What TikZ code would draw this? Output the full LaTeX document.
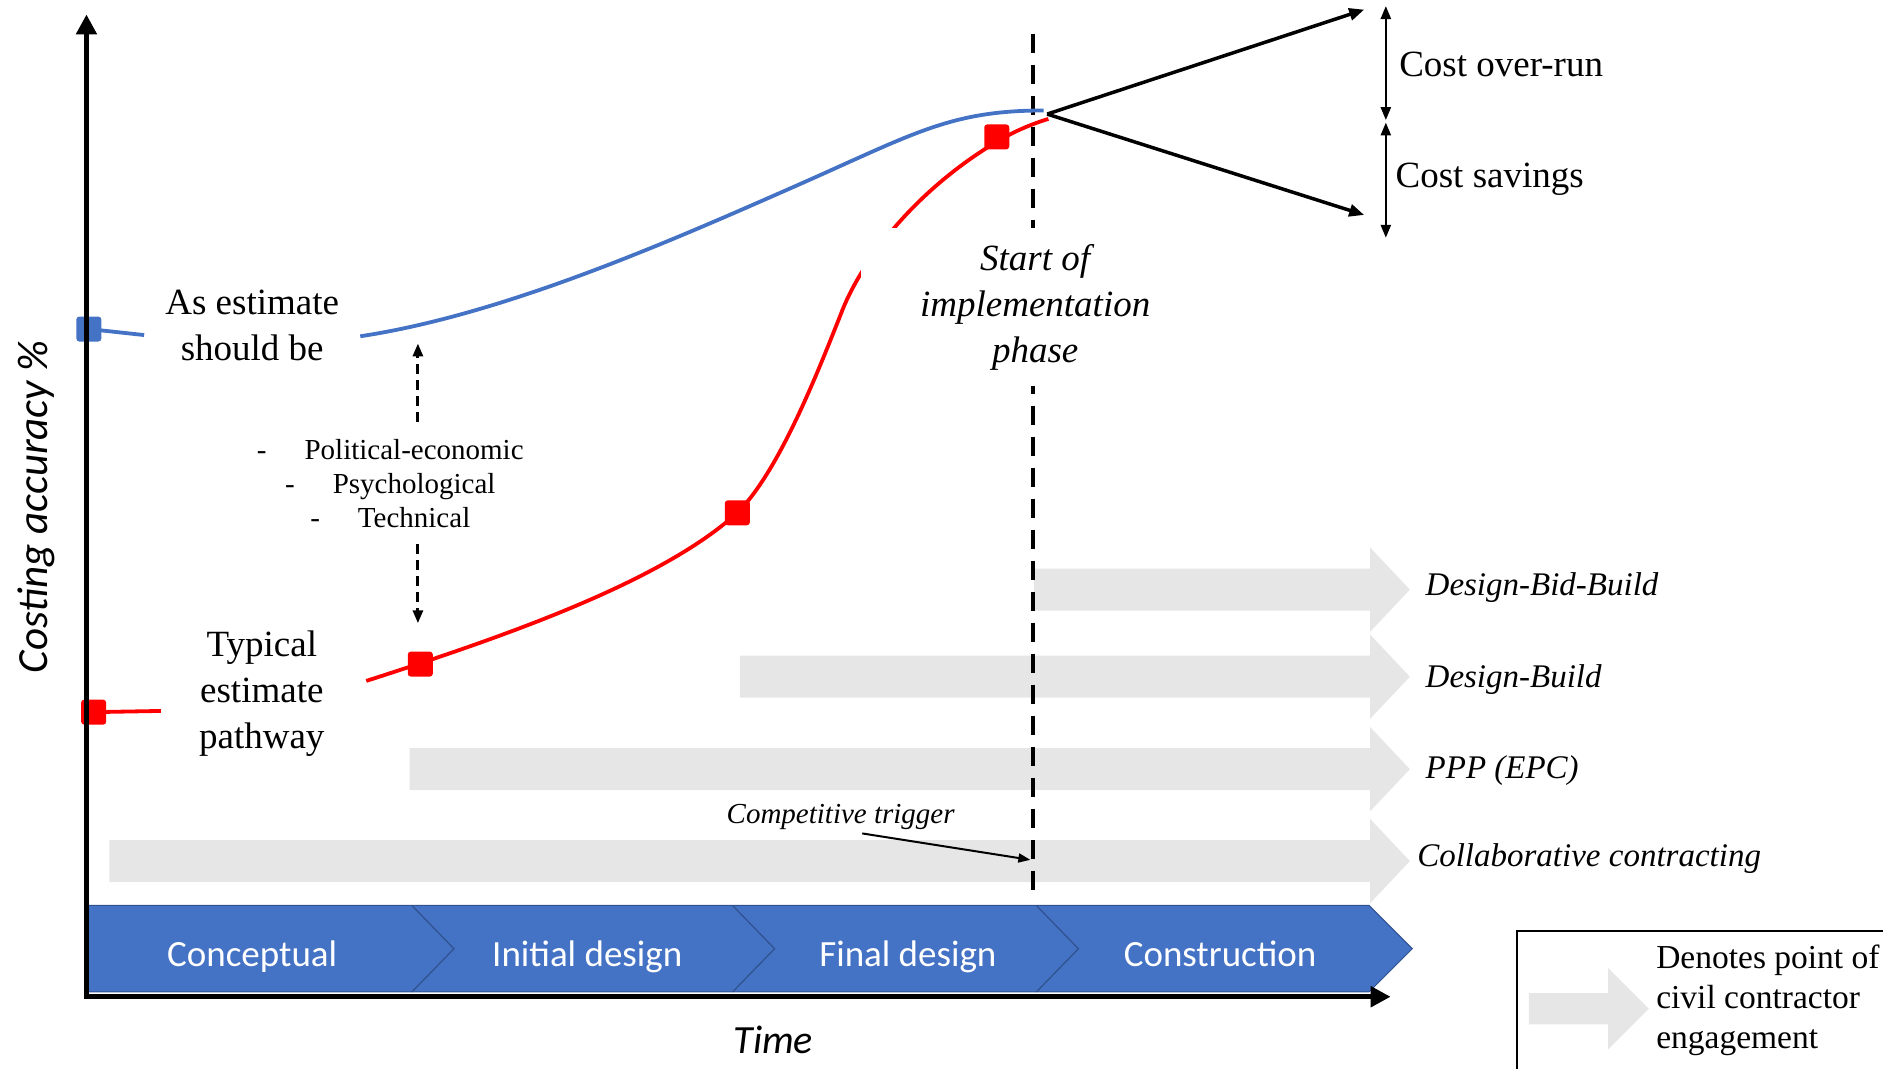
\documentclass[tikz,border=0pt]{standalone}
\usepackage{fontspec}
\setmainfont{Liberation Serif}
\newfontfamily\calibri{Carlito}
\usetikzlibrary{arrows.meta,calc}
\definecolor{obl}{RGB}{68,114,196}
\definecolor{obldark}{RGB}{47,82,143}
\definecolor{lgray}{RGB}{231,230,230}
\newcommand{\grayarr}[2]{%
  \fill[lgray] (#1,#2-17.5) -- (1141,#2-17.5) -- (1141,#2-35) -- (1174,#2) -- (1141,#2+35) -- (1141,#2+17.5) -- (#1,#2+17.5) -- cycle;}
\begin{document}
\begin{tikzpicture}[x=1.2009pt,y=-1.2009pt,
  bigtxt/.style={font=\fontsize{37}{46}\selectfont, align=center, inner sep=0pt},
  itxt/.style={font=\fontsize{33}{40}\selectfont\itshape, inner sep=0pt, anchor=west},
  bandtxt/.style={font=\calibri\fontsize{37}{44}\selectfont, text=white, inner sep=0pt, text height=0.64em, text depth=0.2em},
  sq/.style={rectangle, minimum size=25pt, inner sep=0pt, rounded corners=3pt},
  curve/.style={line width=3.8pt},
  fan/.style={line width=3.5pt, -{Triangle[length=15pt,width=12pt]}},
  dimarr/.style={line width=2.5pt, {Triangle[length=13pt,width=10pt]}-{Triangle[length=13pt,width=10pt]}},
  dasharr/.style={line width=3pt, dash pattern=on 10pt off 6pt, -{Triangle[length=13pt,width=10pt]}},
  axis/.style={line width=5pt, -{Triangle[length=20pt,width=20pt]}}
]
\useasboundingbox (0,0) rectangle (1568,890);

% gray contractor engagement arrows
\grayarr{861}{491}
\grayarr{616}{563.5}
\grayarr{341}{640.5}
\grayarr{91}{717}

% vertical dashed line (start of implementation)
\coordinate (dtop) at (860,28);
\coordinate (dbot) at (860,748);
\draw[line width=3.5pt, dash pattern=on 19pt off 12pt] (dtop) -- (dbot);

% curves
\draw[obl, curve] (300,280) .. controls (420,262) and (560,200) .. (660,156)
                  .. controls (760,112) and (790,92) .. (869,92);
\draw[red, curve] (305,567) .. controls (420,530) and (550,485) .. (614,427)
                  .. controls (648,393) and (679,315) .. (700,262)
                  .. controls (716,219) and (760,160) .. (830,118)
                  .. controls (845,109) and (860,103) .. (873,99);

% fan
\coordinate (fan) at (872,95);
\coordinate (ftop) at (1136,8);
\coordinate (fbot) at (1136,179);
\draw[fan] (fan) -- (ftop);
\draw[fan] (fan) -- (fbot);

% start of implementation text (white box)
\node[bigtxt, font=\fontsize{37}{46}\selectfont\itshape, fill=white, minimum width=348pt, minimum height=158pt] (start) at (862,256) {Start of\\implementation\\phase};

% curve labels
\node[bigtxt] (asest) at (210,271) {As estimate\\should be};
\node[bigtxt] (typ) at (218,578) {Typical\\estimate\\pathway};

% start segments and squares
\node[sq, fill=obl] (bsq) at (74,274) {};
\coordinate (bseg) at (120,279);
\draw[obl, curve] (bsq.center) -- (bseg);
\node[sq, fill=red] (rsq1) at (78,593) {};
\coordinate (rseg) at (134,592);
\draw[red, curve] (rsq1.center) -- (rseg);
\node[sq, fill=red] (rsq2) at (350,553) {};
\node[sq, fill=red] (rsq3) at (614,427) {};
\node[sq, fill=red] (rsq4) at (830,114) {};

% factors
\node[font=\fontsize{29}{34}\selectfont, align=center, inner sep=0pt] (fact) at (325,403)
  {-\hspace{38pt}Political-economic\\-\hspace{38pt}Psychological\\-\hspace{38pt}Technical};
\coordinate (fup) at (348,286);
\coordinate (fupst) at (348,351);
\coordinate (fdn) at (348,519);
\coordinate (fdnst) at (348,453);
\draw[dasharr] (fupst) -- (fup);
\draw[dasharr] (fdnst) -- (fdn);

% cost over-run / savings
\coordinate (d1) at (1154,5);
\coordinate (d2) at (1154,100);
\coordinate (d3) at (1154,102);
\coordinate (d4) at (1154,198);
\draw[dimarr] (d1) -- (d2);
\draw[dimarr] (d3) -- (d4);
\node[font=\fontsize{37}{44}\selectfont, anchor=west, inner sep=0pt] (over) at (1165,54) {Cost over-run};
\node[font=\fontsize{37}{44}\selectfont, anchor=west, inner sep=0pt] (sav) at (1162,149) {Cost savings};

% contract labels
\node[itxt] (dbb) at (1187,489) {Design-Bid-Build};
\node[itxt] (db) at (1187,566) {Design-Build};
\node[itxt] (ppp) at (1187,642) {PPP (EPC)};
\node[itxt] (collab) at (1180,715) {Collaborative contracting};

% competitive trigger
\node[font=\fontsize{29}{34}\selectfont\itshape, inner sep=0pt] (comp) at (700,680) {Competitive trigger};
\coordinate (cst) at (718,694);
\coordinate (ctip) at (858,716);
\draw[line width=2pt, -{Triangle[length=12pt,width=9pt]}] (cst) -- (ctip);

% phase band
\fill[obl] (72,754) -- (1140,754) -- (1176,790) -- (1140,826) -- (72,826) -- cycle;
\draw[obldark, line width=1pt] (72,754) -- (1140,754) -- (1176,790) -- (1140,826) -- (72,826);
\draw[obldark, line width=1.2pt] (343,754) -- (378,790) -- (343,826);
\draw[obldark, line width=1.2pt] (610,754) -- (645,790) -- (610,826);
\draw[obldark, line width=1.2pt] (863,754) -- (898,790) -- (863,826);
\node[bandtxt] (p1) at (210,803) {Conceptual};
\node[bandtxt] (p2) at (489,803) {Initial design};
\node[bandtxt] (p3) at (756,803) {Final design};
\node[bandtxt] (p4) at (1016,803) {Construction};

% axes
\coordinate (origin) at (72,830);
\coordinate (ytip) at (72,12);
\coordinate (xtip) at (1158,830);
\draw[axis] ($(origin)+(0,1.5)$) -- (ytip);
\draw[axis] ($(origin)+(-2,0)$) -- (xtip);
\node[font=\calibri\fontsize{43}{50}\selectfont\itshape, rotate=90, inner sep=0pt] (ylab) at (30,422) {Costing accuracy \%};
\node[font=\calibri\fontsize{40}{48}\selectfont\itshape, inner sep=0pt] (xlab) at (644,866) {Time};

% legend
\draw[line width=2pt] (1580,775) -- (1263,775) -- (1263,900);
\fill[lgray] (1273,827) -- (1339,827) -- (1339,806) -- (1373,840) -- (1339,874) -- (1339,853) -- (1273,853) -- cycle;
\node[font=\fontsize{33.5}{39.6}\selectfont, align=left, anchor=west, inner sep=0pt] (leg) at (1379,833) {Denotes point of\\civil contractor\\engagement};
\end{tikzpicture}
\end{document}
